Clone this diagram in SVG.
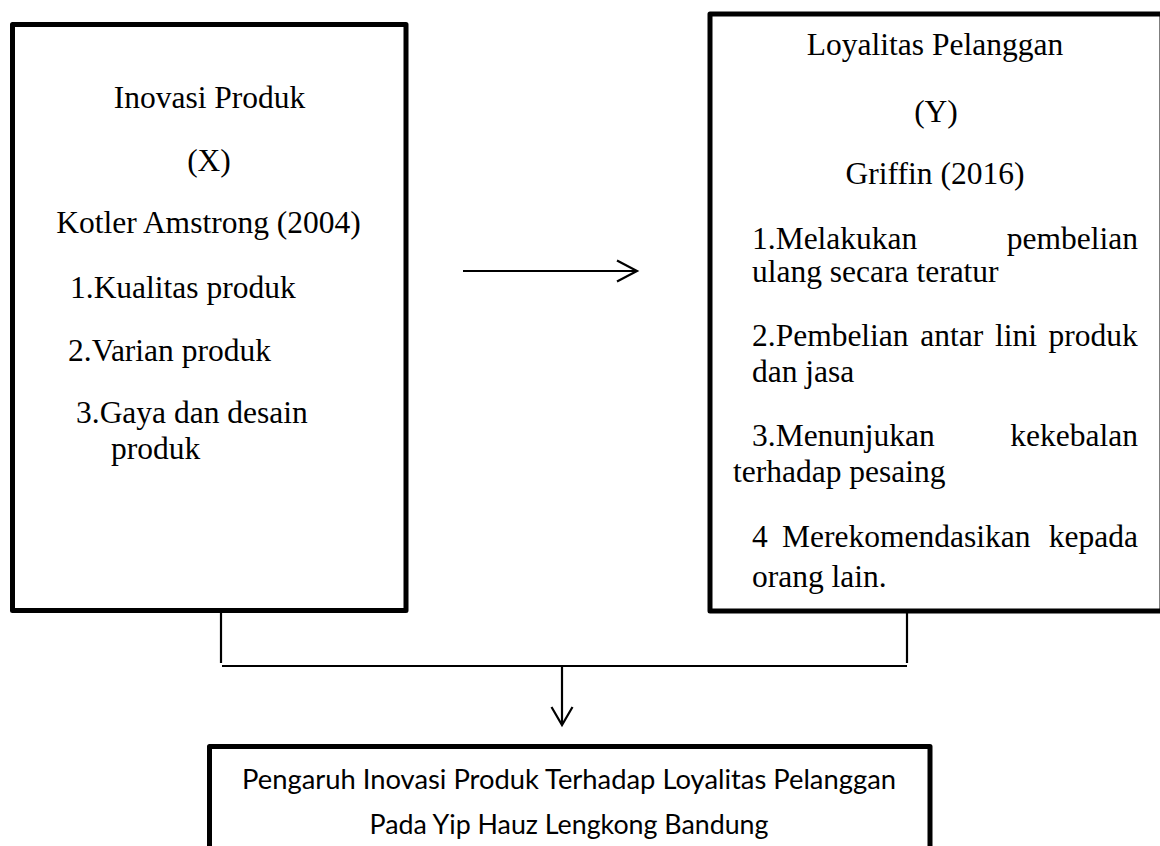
<svg xmlns="http://www.w3.org/2000/svg" width="1160" height="846" viewBox="0 0 1160 846">
<style>
.box{fill:#fff;stroke:#000;stroke-width:5;stroke-linejoin:round}
.t{font-family:"Liberation Serif","Times New Roman",serif;font-size:31.5px;fill:#000}
.c{text-anchor:middle}
.e{text-anchor:end}
.s{font-family:Lato,"Open Sans","Liberation Sans",sans-serif;font-size:27px;fill:#000;text-anchor:middle}
.ln{stroke:#000;stroke-width:2.2;fill:none}
</style>
<rect width="1160" height="846" fill="#fff"/>
<g id="node-x">
<rect class="box" x="12.5" y="24.5" width="393.5" height="586"/>
<text class="t c" x="209.5" y="108">Inovasi Produk</text>
<text class="t c" x="209" y="171">(X)</text>
<text class="t c" x="208.5" y="233">Kotler Amstrong (2004)</text>
<text class="t" x="70" y="298">1.Kualitas produk</text>
<text class="t" x="68" y="361">2.Varian produk</text>
<text class="t" x="76" y="423">3.Gaya dan desain</text>
<text class="t" x="111" y="459">produk</text>
</g>
<g id="node-y">
<rect class="box" x="710" y="14" width="452" height="597"/>
<text class="t c" x="935" y="55">Loyalitas Pelanggan</text>
<text class="t c" x="936" y="122">(Y)</text>
<text class="t c" x="935" y="184">Griffin (2016)</text>
<text class="t" x="752" y="249">1.Melakukan</text>
<text class="t e" x="1138" y="249">pembelian</text>
<text class="t" x="752" y="282">ulang secara teratur</text>
<text class="t" x="752" y="346" word-spacing="3.8">2.Pembelian antar lini produk</text>
<text class="t" x="752" y="382">dan jasa</text>
<text class="t" x="752" y="446">3.Menunjukan</text>
<text class="t e" x="1138" y="446">kekebalan</text>
<text class="t" x="733" y="482">terhadap pesaing</text>
<text class="t" x="752" y="547">4</text>
<text class="t" x="782" y="547">Merekomendasikan</text>
<text class="t e" x="1138" y="547">kepada</text>
<text class="t" x="752" y="587">orang lain.</text>
</g>
<g id="node-result">
<rect class="box" x="209.5" y="746.5" width="720.5" height="120"/>
<text class="s" x="569" y="789" textLength="654" lengthAdjust="spacingAndGlyphs">Pengaruh Inovasi Produk Terhadap Loyalitas Pelanggan</text>
<text class="s" x="569" y="834" textLength="399" lengthAdjust="spacingAndGlyphs">Pada Yip Hauz Lengkong Bandung</text>
</g>
<g id="connectors">
<line class="ln" x1="463" y1="271" x2="636" y2="271"/>
<polyline class="ln" points="617,260.5 637,271 617,281.5"/>
<line class="ln" x1="221" y1="613" x2="221" y2="663"/>
<line class="ln" x1="907" y1="613" x2="907" y2="663"/>
<line class="ln" x1="222" y1="666" x2="907" y2="666"/>
<line class="ln" x1="562" y1="666" x2="562" y2="724"/>
<polyline class="ln" points="551.5,707 562,725 572.5,707"/>
</g>
</svg>
